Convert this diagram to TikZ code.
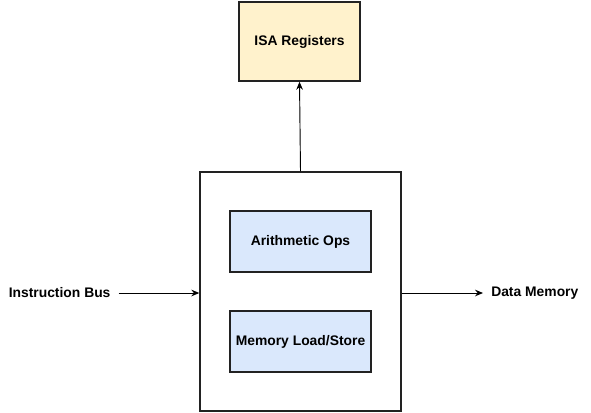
\documentclass[tikz,border=0pt]{standalone}
\usepackage{fontspec}
\setmainfont{Liberation Sans}
\usetikzlibrary{positioning,arrows.meta}
\definecolor{regfill}{HTML}{FFF2CC}
\definecolor{opfill}{HTML}{DAE8FC}
\definecolor{edge}{HTML}{222222}

\begin{document}
\begin{tikzpicture}[
  x=0.75pt, y=-0.75pt,
  box/.style={draw=edge,line width=1.1pt,align=center,font=\fontsize{10.4}{12}\selectfont\bfseries,inner sep=0pt},
  regbox/.style={box,fill=regfill,minimum width=90.75pt,minimum height=59.25pt},
  opbox/.style={box,fill=opfill,minimum width=105.75pt,minimum height=45.75pt},
  arr/.style={-{Stealth[length=6pt,width=5pt,inset=2pt]},line width=0.7pt},
  note/.style={font=\fontsize{10.4}{12}\selectfont\bfseries,inner sep=6pt}
]
\useasboundingbox (0,0) rectangle (591,412);
\node[box, minimum width=150.75pt, minimum height=179.25pt] (core) at (300.5,291.5) {};
\node[regbox] (isa) at (299.5,41.5) {ISA Registers};
\node[opbox] (arith) at (300.5,241.5) {Arithmetic Ops};
\node[opbox] (mem) at (300.5,341.5) {Memory Load/Store};

\node[note, anchor=west] (ibus) at (0.5,293) {Instruction Bus};
\node[note, anchor=west] (dmem) at (483,293) {Data Memory};

\draw[arr] (core.north) -- (isa.south);
\draw[arr] (ibus.east) -- (ibus.east -| core.west);
\draw[arr] (dmem.west -| core.east) -- (dmem.west);
\end{tikzpicture}
\end{document}
